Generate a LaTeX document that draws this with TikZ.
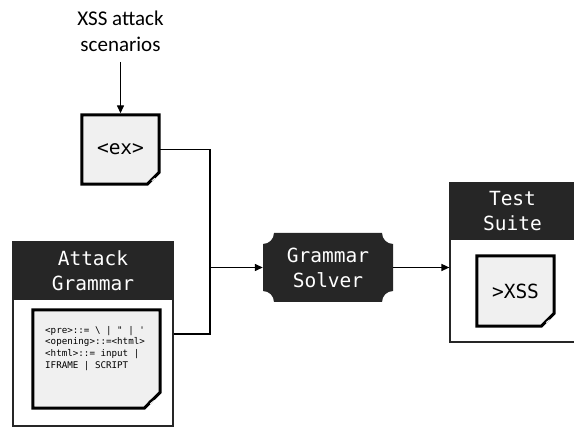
\documentclass[tikz,border=0pt]{standalone}
\usepackage{fontspec}
\setmainfont{Carlito}
\setmonofont{DejaVu Sans Mono}
\usetikzlibrary{arrows.meta,calc,backgrounds}
\definecolor{darkhdr}{HTML}{262626}
\definecolor{docfill}{HTML}{F0F0F0}
\newcommand\docframe[2]{%
  \begin{scope}[on background layer]
    \filldraw[fill=docfill, draw=black, line width=3pt, line join=miter]
      (#1.north west) -- (#1.north east) -- ([shift={(0,-#2)}]#1.south east)
      -- ([shift={(-#2,0)}]#1.south east) -- (#1.south west) -- cycle;
    \fill[black] ([shift={(0,-#2)}]#1.south east) -- ([shift={(-#2,0)}]#1.south east)
      -- ([shift={(-0.7*#2,-0.45*#2)}]#1.south east) -- cycle;
    \draw[white, line width=0.8pt] ([shift={(-0.62*#2,-0.28*#2)}]#1.south east) -- ([shift={(-0.35*#2,-0.5*#2)}]#1.south east);
  \end{scope}}
\begin{document}
\begin{tikzpicture}[x=1pt,y=-1pt,
  conn/.style={line width=1.4pt, black},
  arr/.style={conn, -{Triangle[length=8pt,width=7pt]}},
  hdr/.style={fill=darkhdr, draw=darkhdr, line width=1.2pt, text=white, align=center, inner sep=0pt,
    font=\ttfamily\fontsize{19.5}{25}\selectfont},
  body/.style={draw=black!85, line width=1.2pt, inner sep=0pt},
  docbox/.style={inner sep=0pt, font=\ttfamily\fontsize{19.5}{25}\selectfont}]
\useasboundingbox (0,0) rectangle (574,427);
\clip (0,0) rectangle (574,427);

% top label
\node[font=\fontsize{21}{26}\selectfont, align=center] (scen) at (120.5,31) {XSS attack\\scenarios};
\coordinate (sc) at (120.5,62);

% <ex> document
\node[docbox, minimum width=77pt, minimum height=69pt] (ex) at (120.5,149.5) {<ex>};
\docframe{ex}{12}

% Attack Grammar container
\node[hdr, minimum width=160pt, minimum height=57pt] (agh) at (93,270.5) {Attack\\Grammar};
\node[body, minimum width=160pt, minimum height=127pt] (agb) at (93,362.5) {};
\node[docbox, minimum width=127pt, minimum height=98pt] (gdoc) at (96.5,359) {};
\docframe{gdoc}{16}
\node[anchor=north west, inner sep=0pt, align=left, font=\ttfamily\fontsize{9.2}{11.6}\selectfont] (gtext) at (45,326)
  {<pre>::= \textbackslash{} | \symbol{34} | \symbol{39}\\<opening>::=<html>\\<html>::= input |\\IFRAME | SCRIPT};

% Grammar Solver
\fill[darkhdr] (274,233) -- (382,233) .. controls (382,239) and (387,244) .. (393,244)
  -- (393,291) .. controls (387,291) and (382,296) .. (382,302)
  -- (274,302) .. controls (274,296) and (269,291) .. (263,291)
  -- (263,244) .. controls (269,244) and (274,239) .. (274,233) -- cycle;
\node[text=white, align=center, inner sep=0pt, minimum width=130pt, minimum height=69pt,
  font=\ttfamily\fontsize{19.5}{25}\selectfont] (gs) at (328,267.5) {Grammar\\Solver};

% Test Suite container
\node[hdr, minimum width=125pt, minimum height=56pt] (tsh) at (512.5,211) {Test\\Suite};
\node[body, minimum width=125pt, minimum height=103pt] (tsb) at (512.5,290.5) {};
\node[docbox, minimum width=77pt, minimum height=70pt] (xss) at (515.5,291) {>XSS};
\docframe{xss}{13}

% connectors
\coordinate (j) at (210,267.5);
\draw[arr, shorten >=1.5pt] (sc) -- (sc |- ex.north);
\draw[conn] (ex.east) -| (j);
\draw[conn] ([yshift=28.5pt]agb.east) -| (j);
\draw[arr] (j) -- (gs.west);
\draw[arr] (gs.east) -- (gs.east -| tsb.west);
\end{tikzpicture}
\end{document}
